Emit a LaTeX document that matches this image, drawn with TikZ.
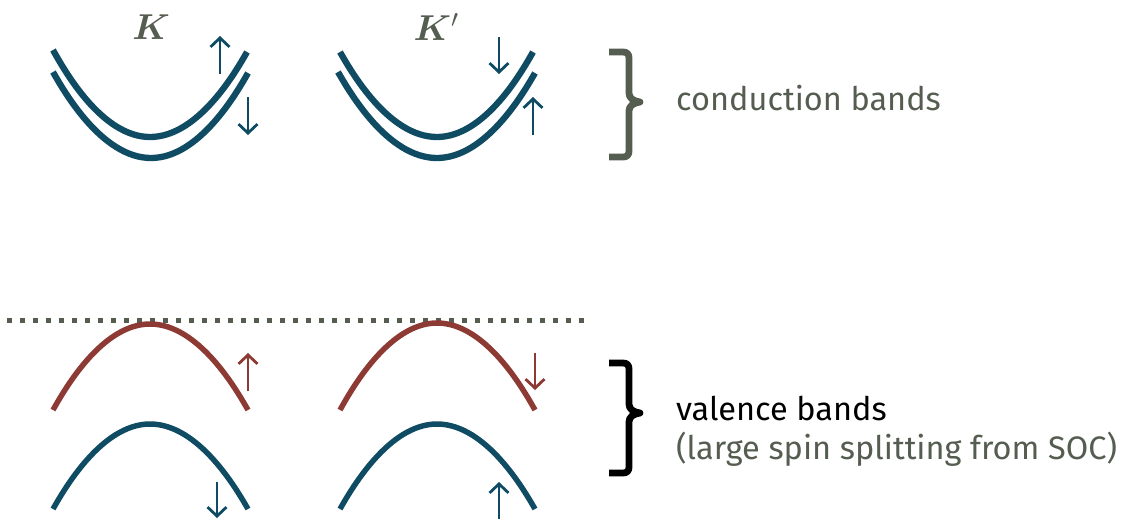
\RequirePackage{fix-cm}
\documentclass[tikz,border=0pt]{standalone}
\usepackage{fontspec}
\setsansfont{Fira Sans}
\usepackage{bm}
\usetikzlibrary{arrows.meta}
\definecolor{bandblue}{HTML}{0F4C64}
\definecolor{bandred}{HTML}{8C3A33}
\definecolor{graygreen}{HTML}{545D50}
\tikzset{
  cband/.style={line width=6.3pt,color=bandblue},
  vbandred/.style={line width=5.5pt,color=bandred},
  vbandblue/.style={line width=5.5pt,color=bandblue},
  spin/.style={line width=2.8pt,-{Straight Barb[length=9pt,width=19pt,line width=2.8pt]}},
  bracestyle/.style={line width=6.8pt,line join=round,line cap=butt},
  lbl/.style={font=\fontsize{32.5}{38}\selectfont\sffamily,anchor=base west,inner sep=0pt},
  valley/.style={font=\fontsize{36}{36}\selectfont,text=graygreen,inner sep=0pt}
}
\begin{document}
\begin{tikzpicture}[x=1pt,y=-1pt]
\useasboundingbox (0,0) rectangle (1129,520);
% valley labels
\node[valley] (kl) at (151,27) {$\bm{K}$};
\node[valley] (kpl) at (436,27) {$\bm{K}'$};
% conduction bands K
\draw[cband] (53,50) parabola bend (150,137) (247,52);
\draw[cband] (53,72) parabola bend (151,158) (248,73);
\draw[spin,bandblue] (220,74) -- (220,36);
\draw[spin,bandblue] (248,97) -- (248,135);
% conduction bands K'
\draw[cband] (340,52) parabola bend (437,137) (533,52);
\draw[cband] (338,72) parabola bend (437,158) (535,73);
\draw[spin,bandblue] (499,37) -- (499,74);
\draw[spin,bandblue] (533,135) -- (533,97);
% dotted line
\draw[graygreen,line width=5pt,dash pattern=on 5pt off 8pt] (7,320) -- (585,320);
% valence K
\draw[vbandred] (53,410) parabola bend (150,324) (248,410);
\draw[vbandblue] (53,509) parabola bend (150,424) (248,509);
\draw[spin,bandred] (248,391) -- (248,353);
\draw[spin,bandblue] (217,482) -- (217,518);
% valence K'
\draw[vbandred] (340,410) parabola bend (437,323) (535,410);
\draw[vbandblue] (340,509) parabola bend (437,424) (535,509);
\draw[spin,bandred] (535,353) -- (535,390);
\draw[spin,bandblue] (499,519) -- (499,482);
% conduction brace
\draw[bracestyle,graygreen] (609,52) -- (623,52) .. controls (627,52) and (629,54) .. (629,58)
  -- (629,93) .. controls (629,98) and (633,101) .. (640,102)
  .. controls (633,103) and (629,106) .. (629,111)
  -- (629,151) .. controls (629,155) and (627,157) .. (623,157) -- (609,157);
% valence brace
\draw[bracestyle,black] (609,363) -- (623,363) .. controls (627,363) and (629,365) .. (629,369)
  -- (629,404) .. controls (629,409) and (633,412) .. (640,413)
  .. controls (633,414) and (629,417) .. (629,422)
  -- (629,467) .. controls (629,471) and (627,473) .. (623,473) -- (609,473);
% labels
\node[lbl,text=graygreen] (cb) at (676,110) {conduction bands};
\node[lbl,text=black] (vb) at (676,420) {valence bands};
\node[lbl,text=graygreen] (soc) at (676,459) {(large spin splitting from SOC)};
\end{tikzpicture}
\end{document}
